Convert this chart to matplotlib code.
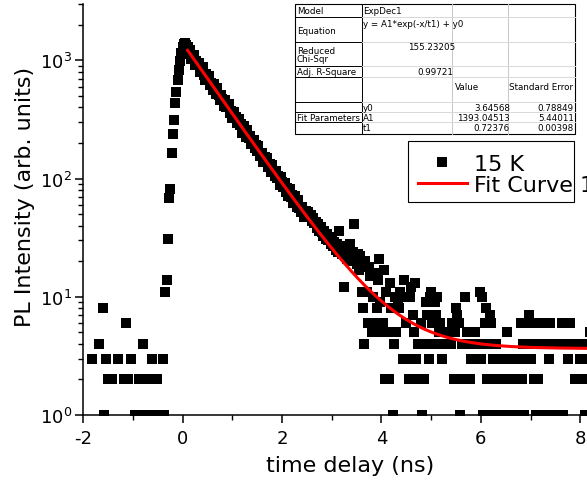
import numpy as np
import matplotlib
matplotlib.use('Agg')
import matplotlib.pyplot as plt
from matplotlib.ticker import MultipleLocator, LogLocator, NullFormatter
from matplotlib.patches import Rectangle
from matplotlib.lines import Line2D

plt.rcParams['font.family'] = 'DejaVu Sans'
plt.rcParams['axes.unicode_minus'] = False

# Datos: conteos PL cada 0.025 ns desde -2 ns
t_start = -2.0
dt = 0.025

counts_pre = [  # -2.0 .. -0.025 ns
    0, 0, 0, 0, 0, 0, 0, 3, 0, 0,
    0, 0, 0, 4, 0, 0, 8, 1, 3, 0,
    2, 0, 0, 2, 0, 0, 0, 0, 3, 0,
    0, 0, 0, 2, 6, 0, 2, 0, 3, 0,
    0, 0, 1, 0, 1, 2, 1, 0, 4, 1,
    2, 1, 0, 2, 1, 3, 1, 2, 1, 2,
    1, 0, 1, 0, 3, 1, 11, 14, 31, 68,
    81, 166, 237, 311, 437, 543, 680, 830, 990, 1150,
]
counts_decay = [  # 0.0 .. 3.475 ns
    1290, 1370, 1395, 1360, 1290, 1141, 1227, 1031, 1081, 1116,
    911, 994, 906, 956, 803, 858, 886, 747, 684, 762,
    702, 732, 622, 646, 563, 626, 588, 519, 581, 505,
    463, 505, 470, 409, 464, 407, 421, 427, 356, 373,
    326, 363, 327, 335, 293, 322, 282, 289, 245, 276,
    254, 226, 256, 220, 230, 195, 209, 212, 180, 191,
    172, 190, 155, 162, 165, 137, 152, 138, 148, 125,
    132, 114, 131, 115, 105, 116, 102, 106, 89, 103,
    94, 85, 91, 77, 84, 71, 82, 70, 72, 62,
    71, 66, 58, 66, 56, 52, 58, 53, 47, 53,
    50, 52, 47, 49, 44, 46, 42, 43, 38, 41,
    36, 39, 35, 33, 36, 31, 34, 30, 32, 28,
    30, 27, 29, 25, 28, 24, 36, 26, 23, 27,
    12, 24, 21, 25, 22, 28, 20, 24, 41, 21,
]
counts_tail = [  # 3.5 .. 8.2 ns
    19, 23, 17, 22, 11, 8, 4, 20, 11, 6,
    18, 15, 5, 10, 16, 6, 8, 14, 21, 9,
    5, 6, 17, 2, 11, 5, 2, 13, 8, 1,
    4, 10, 5, 9, 8, 11, 0, 3, 14, 10,
    6, 3, 2, 10, 12, 7, 5, 13, 3, 4,
    2, 4, 6, 1, 2, 4, 9, 7, 3, 10,
    11, 6, 4, 9, 7, 10, 5, 6, 4, 3,
    5, 4, 0, 5, 4, 0, 4, 6, 2, 5,
    8, 7, 6, 1, 2, 4, 0, 10, 2, 5,
    4, 2, 3, 5, 4, 5, 3, 0, 4, 11,
    3, 10, 1, 6, 8, 2, 4, 7, 6, 1,
    3, 2, 4, 1, 3, 2, 1, 0, 3, 2,
    1, 5, 2, 3, 1, 0, 2, 3, 1, 2,
    3, 1, 6, 2, 4, 1, 3, 6, 4, 7,
    3, 6, 4, 2, 1, 6, 2, 4, 0, 6,
    1, 4, 6, 1, 0, 3, 6, 1, 0, 4,
    1, 4, 0, 1, 4, 6, 1, 4, 6, 0,
    3, 4, 6, 4, 0, 4, 2, 4, 0, 2,
    3, 4, 2, 4, 1, 3, 4, 2, 5,
]
assert len(counts_pre) == 80 and len(counts_decay) == 140 and len(counts_tail) == 189

# Parametros del ajuste ExpDec1
y0 = 3.64568
A1 = 1393.04513
t1 = 0.72376

counts = np.array(counts_pre + counts_decay + counts_tail, dtype=float)
time = t_start + dt * np.arange(len(counts))
counts[counts <= 0] = np.nan

W, H = 587, 485
fig = plt.figure(figsize=(W / 100, H / 100), dpi=100)

def fx(x):
    return x / W

def fy(y):
    return 1 - y / H

ax = fig.add_axes([fx(83.3), fy(416), 509.4 / W, 411 / H])

ax.plot(time, counts, 's', color='black', ms=7, mew=0, label='15 K', zorder=2)
t_fit = np.linspace(0.1, 8.3, 500)
ax.plot(t_fit, A1 * np.exp(-t_fit / t1) + y0, color='red', lw=2.2,
        label='Fit Curve 1', zorder=3)

ax.set_yscale('log')
ax.set_ylim(1, 3000)
ax.set_xlim(-2, 8.25)
ax.xaxis.set_major_locator(MultipleLocator(2))
ax.xaxis.set_minor_locator(MultipleLocator(1))
ax.yaxis.set_major_locator(LogLocator(base=10))
ax.yaxis.set_minor_locator(LogLocator(base=10, subs=np.arange(2, 10)))
ax.yaxis.set_minor_formatter(NullFormatter())

for s in ['top', 'right']:
    ax.spines[s].set_visible(False)
for s in ['left', 'bottom']:
    ax.spines[s].set_linewidth(1.1)
ax.tick_params(which='major', direction='out', length=6, width=1.1, labelsize=13)
ax.tick_params(which='minor', direction='out', length=3.5, width=1.0)
ax.tick_params(axis='y', which='major', pad=2)
ax.tick_params(axis='x', which='major', pad=4)

ax.set_xlabel('time delay (ns)', fontsize=16, va='center')
ax.xaxis.set_label_coords(0.5236, -0.1217)
ax.set_ylabel('PL Intensity (arb. units)', fontsize=16, va='center', ha='center')
ax.yaxis.set_label_coords(-0.1145, 0.534)

# Leyenda con el marco de Origin (mas estrecho que el texto)
ax.legend(loc='upper left', bbox_to_anchor=(fx(418), fy(155)),
          bbox_transform=fig.transFigure, frameon=False, fontsize=16,
          handlelength=2.2, handletextpad=0.3, borderpad=0, labelspacing=0.05,
          borderaxespad=0, numpoints=1)
fig.add_artist(Rectangle((fx(408.3), fy(203.3)), 166 / W, 61.3 / H,
                         transform=fig.transFigure, fill=False, lw=0.8,
                         ec='black', zorder=5))

# Tabla de resultados del ajuste
fig.add_artist(Rectangle((fx(295), fy(135)), 280 / W, 130 / H,
                         transform=fig.transFigure, fc='white', ec='black',
                         lw=0.8, zorder=4))

def hline(y, x0, x1, c):
    fig.add_artist(Line2D([fx(x0), fx(x1)], [fy(y), fy(y)],
                          transform=fig.transFigure, color=c, lw=0.7, zorder=5))

def vline(x, y0_, y1_, c):
    fig.add_artist(Line2D([fx(x), fx(x)], [fy(y0_), fy(y1_)],
                          transform=fig.transFigure, color=c, lw=0.7, zorder=5))

vline(361.7, 5, 135, 'black')
vline(451.7, 5, 135, '#c8c8c8')
vline(508.3, 5, 135, '#c8c8c8')
for yy in [18.3, 43.3, 66.7, 78.3, 103.3, 113.3, 123.3]:
    hline(yy, 295, 361.7, 'black')
    hline(yy, 361.7, 575, '#d8d8d8')

cells = [
    (297, 11.5, 'Model', 'left'),
    (363, 11, 'ExpDec1', 'left'),
    (297, 32, 'Equation', 'left'),
    (363, 24.5, 'y = A1*exp(-x/t1) + y0', 'left'),
    (297, 52, 'Reduced', 'left'),
    (297, 60, 'Chi-Sqr', 'left'),
    (455, 48, '155.23205', 'right'),
    (297, 72.5, 'Adj. R-Square', 'left'),
    (453, 72.5, '0.99721', 'right'),
    (455, 87.5, 'Value', 'left'),
    (509, 87.5, 'Standard Error', 'left'),
    (363, 108.5, 'y0', 'left'),
    (510, 108.5, '3.64568', 'right'),
    (574, 108.5, '0.78849', 'right'),
    (297, 118.5, 'Fit Parameters', 'left'),
    (363, 118.5, 'A1', 'left'),
    (510, 118.5, '1393.04513', 'right'),
    (574, 118.5, '5.44011', 'right'),
    (363, 128.5, 't1', 'left'),
    (510, 128.5, '0.72376', 'right'),
    (574, 128.5, '0.00398', 'right'),
]
for x, y, s, ha in cells:
    fig.text(fx(x), fy(y), s, fontsize=6.3, ha=ha, va='center', zorder=6)

fig.savefig('out.png', dpi=100)
